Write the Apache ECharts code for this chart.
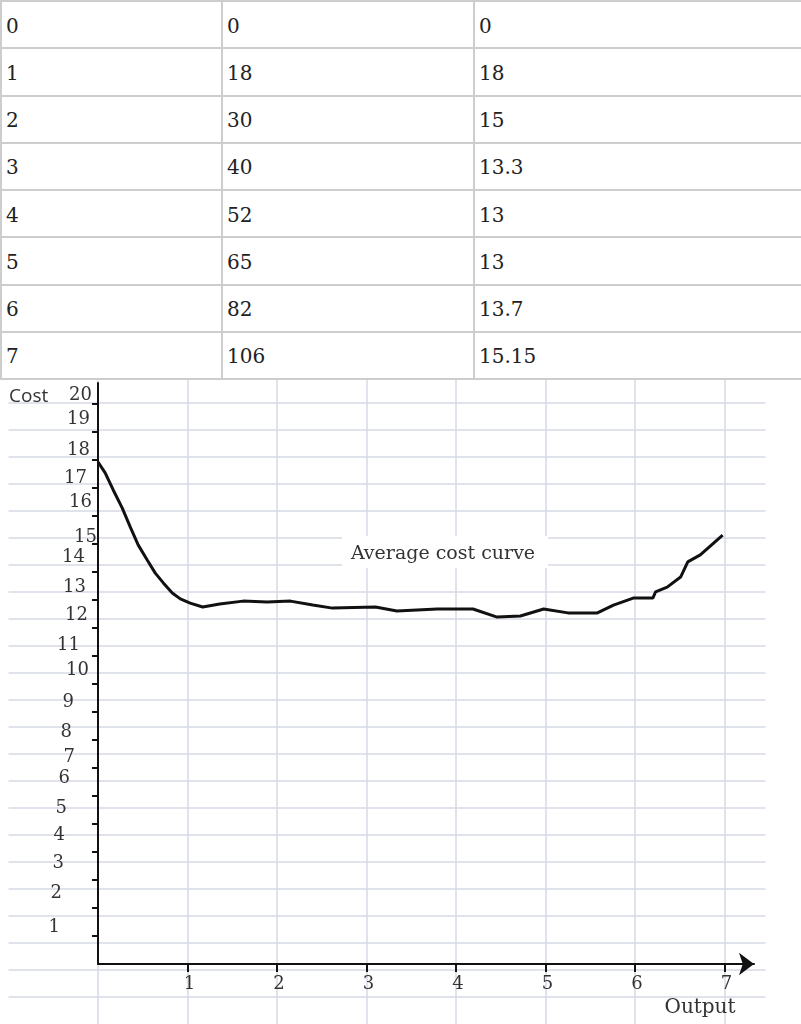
<!DOCTYPE html>
<html>
<head>
<meta charset="utf-8">
<script src="https://cdn.jsdelivr.net/npm/echarts@6/dist/echarts.min.js"></script>
<style>
  body { margin: 0; background: #fff; }
  #tbl {
    position: absolute; left: 0; top: 0; width: 801px;
    border-collapse: collapse; table-layout: fixed;
    font-family: "DejaVu Serif"; font-size: 20px; color: #222;
  }
  #tbl td { border: 2px solid #cdcdcd; height: 47.25px; padding: 2px 0 0 4px; box-sizing: border-box; }
  #chart { position: absolute; left: 0; top: 380px; width: 801px; height: 644px; }
</style>
</head>
<body>
<table id="tbl">
  <colgroup><col style="width:221px"><col style="width:252px"><col style="width:328px"></colgroup>
  <tbody id="rows"></tbody>
</table>
<div id="chart"></div>
<script>
// table values
const output = [0, 1, 2, 3, 4, 5, 6, 7]
const totalCost = [0, 18, 30, 40, 52, 65, 82, 106]
const averageCost = [0, 18, 15, 13.3, 13, 13, 13.7, 15.15]

// hand drawn average cost curve (output, cost)
const curveX = [0, 0.08, 0.17, 0.27, 0.36, 0.45, 0.55, 0.64, 0.73, 0.83, 0.92, 1.03, 1.17, 1.36, 1.62, 1.89,
  2.15, 2.40, 2.62, 3.10, 3.34, 3.79, 4.19, 4.46, 4.72, 4.98, 5.25, 5.58, 5.76, 5.98, 6.20, 6.23, 6.36,
  6.51, 6.59, 6.73, 6.98]
const curveY = [17.93, 17.54, 16.93, 16.29, 15.61, 14.96, 14.43, 13.96, 13.61, 13.25, 13.04, 12.89, 12.75,
  12.86, 12.96, 12.93, 12.96, 12.82, 12.71, 12.75, 12.61, 12.68, 12.68, 12.39, 12.43, 12.68, 12.54, 12.54,
  12.82, 13.07, 13.07, 13.29, 13.46, 13.82, 14.36, 14.61, 15.32]

// axis ticks
const xTicks = [1, 2, 3, 4, 5, 6, 7]
const yTicks = [1, 2, 3, 4, 5, 6, 7, 8, 9, 10, 11, 12, 13, 14, 15, 16, 17, 18, 19, 20]

// the y labels were written by hand: gap from the axis and lift above the tick, per label (px)
const yLabelGap = [38, 36, 34, 33, 31, 28, 23, 26, 24, 9, 18, 10, 12, 13, 1, 6, 11, 8, 8, 6]
const yLabelLift = [9, 15, 17, 17, 16, 18, 11, 8, 10, 14, 11, 13, 13, 15, 7, 14, 10, 10, 13, 9]

document.getElementById('rows').innerHTML = output
  .map((o, i) => `<tr><td>${o}</td><td>${totalCost[i]}</td><td>${averageCost[i]}</td></tr>`)
  .join('')

const serif = 'DejaVu Serif'
const ink = '#111'
const sheet = { color: '#d6dae6', width: 1.5 }

const yRich = {}
yTicks.forEach((v, i) => {
  yRich['t' + v] = { padding: [0, yLabelGap[i], 2 * yLabelLift[i], 0] }
})

const chart = echarts.init(document.getElementById('chart'))
chart.setOption({
  animation: false,
  grid: [
    { left: 98, right: 47, top: 3, bottom: 60 },
    // spreadsheet cells behind the sketch
    { left: 8.5, right: 35.5, top: 0, bottom: -24 },
  ],
  xAxis: [
    {
      type: 'value', gridIndex: 0, min: 0, max: 7.33, z: 4,
      axisLine: { lineStyle: { color: ink, width: 2 }, symbol: ['none', 'arrow'], symbolSize: [17, 15] },
      axisTick: { customValues: xTicks, length: 8, lineStyle: { color: ink, width: 2 } },
      axisLabel: {
        customValues: xTicks, margin: 11, padding: [0, 0, 0, 4],
        fontFamily: serif, fontSize: 18, color: '#333',
      },
      splitLine: { show: false },
    },
    {
      type: 'value', gridIndex: 1, min: -1, max: 7.46, interval: 1, z: 0,
      axisLine: { show: false }, axisTick: { show: false }, axisLabel: { show: false },
      splitLine: { show: true, showMinLine: false, showMaxLine: false, lineStyle: sheet },
    },
  ],
  yAxis: [
    {
      type: 'value', gridIndex: 0, min: 0, max: 20.75, z: 4,
      axisLine: { show: true, lineStyle: { color: ink, width: 2 } },
      axisTick: { show: true, customValues: yTicks, length: 6, lineStyle: { color: ink, width: 2 } },
      axisLabel: {
        customValues: yTicks, margin: 0,
        fontFamily: serif, fontSize: 18, color: '#333',
        formatter: v => `{t${v}|${v}}`,
        rich: yRich,
      },
      splitLine: { show: false },
    },
    {
      type: 'value', gridIndex: 1, min: -3, max: 20.857, interval: 1, z: 0,
      axisLine: { show: false }, axisTick: { show: false }, axisLabel: { show: false },
      splitLine: { show: true, showMinLine: false, showMaxLine: false, lineStyle: sheet },
    },
  ],
  graphic: [
    { type: 'rect', z: 3, shape: { x: 342, y: 156, width: 206, height: 32 }, style: { fill: '#fff' } },
    {
      type: 'text', z: 3, x: 443, y: 174,
      style: { text: 'Average cost curve', font: '19px "DejaVu Serif"', fill: '#333', align: 'center', verticalAlign: 'middle' },
    },
    {
      type: 'text', z: 3, x: 9, y: 17,
      style: { text: 'Cost', font: '19px "Open Sans"', fill: '#333', align: 'left', verticalAlign: 'middle' },
    },
    {
      type: 'text', z: 3, x: 700, y: 628,
      style: { text: 'Output', font: '20px "DejaVu Serif"', fill: '#333', align: 'center', verticalAlign: 'middle' },
    },
  ],
  series: [
    {
      name: 'Average cost',
      type: 'line',
      xAxisIndex: 0,
      yAxisIndex: 0,
      z: 5,
      symbol: 'none',
      lineStyle: { color: ink, width: 3 },
      data: curveX.map((x, i) => [x, curveY[i]]),
    },
  ],
})
</script>
</body>
</html>
